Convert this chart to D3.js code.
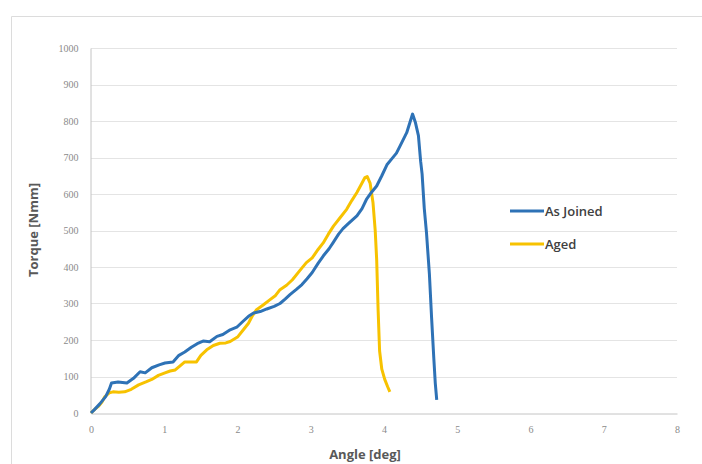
<!DOCTYPE html>
<html>
<head>
<meta charset="utf-8">
<script src="https://cdn.jsdelivr.net/npm/d3@7"></script>
<style>
  body { margin: 0; background: #fff; }
  svg { display: block; }
</style>
</head>
<body>
<svg width="702" height="464"></svg>
<script>
// torque vs angle
var joinedAngle = [0, 0.05, 0.12, 0.2, 0.25, 0.28, 0.37, 0.49, 0.58, 0.67, 0.74, 0.83, 0.93, 1.01, 1.12, 1.2, 1.28, 1.37, 1.45, 1.53, 1.62, 1.72, 1.8, 1.9, 1.99, 2.08, 2.15, 2.22, 2.31, 2.4, 2.5, 2.58, 2.65, 2.72, 2.8, 2.88, 2.95, 3.02, 3.1, 3.17, 3.25, 3.31, 3.38, 3.44, 3.52, 3.63, 3.7, 3.76, 3.83, 3.9, 3.97, 4.04, 4.1, 4.17, 4.22, 4.31, 4.36, 4.39, 4.43, 4.47, 4.5, 4.52, 4.55, 4.58, 4.62, 4.65, 4.68, 4.7, 4.72];
var joinedTorque = [0, 10, 25, 45, 65, 82, 85, 82, 95, 113, 110, 124, 132, 137, 140, 158, 167, 180, 190, 197, 195, 210, 215, 228, 235, 252, 265, 274, 278, 285, 292, 300, 312, 325, 338, 352, 368, 385, 410, 430, 450, 468, 490, 505, 520, 540, 560, 585, 605, 622, 650, 680, 695, 712, 732, 768, 800, 819, 795, 760, 690, 655, 560, 494, 380, 260, 150, 82, 36];

var agedAngle = [0, 0.05, 0.1, 0.15, 0.19, 0.25, 0.3, 0.38, 0.46, 0.55, 0.65, 0.75, 0.83, 0.92, 1.01, 1.08, 1.15, 1.22, 1.28, 1.35, 1.44, 1.5, 1.58, 1.67, 1.76, 1.84, 1.9, 2.0, 2.08, 2.15, 2.2, 2.26, 2.35, 2.44, 2.52, 2.58, 2.67, 2.75, 2.85, 2.94, 3.02, 3.1, 3.17, 3.24, 3.31, 3.4, 3.49, 3.56, 3.63, 3.7, 3.74, 3.77, 3.81, 3.85, 3.88, 3.9, 3.92, 3.94, 3.97, 4.01, 4.05, 4.08];
var agedTorque = [0, 10, 18, 30, 45, 55, 58, 57, 58, 65, 77, 85, 92, 103, 110, 115, 118, 130, 140, 140, 140, 158, 173, 185, 191, 192, 196, 208, 228, 246, 265, 283, 296, 310, 322, 338, 350, 365, 390, 412, 425, 448, 466, 490, 512, 535, 558, 582, 604, 630, 645, 648, 630, 576, 500, 420, 280, 170, 120, 92, 72, 58];

var xTicks = [0, 1, 2, 3, 4, 5, 6, 7, 8];
var yTicks = [0, 100, 200, 300, 400, 500, 600, 700, 800, 900, 1000];

var seriesNames = ["As Joined", "Aged"];
var seriesColors = ["#2e72b6", "#f7c200"];

var svg = d3.select("svg");

// outer chart frame (only top/left edge shows)
svg.append("path")
  .attr("d", "M11.5,464 V16.5 H702")
  .attr("fill", "none")
  .attr("stroke", "#dcdcdc")
  .attr("stroke-width", 1);

var x = d3.scaleLinear().domain([0, 8]).range([91, 677]);
var y = d3.scaleLinear().domain([0, 1000]).range([413, 48]);

var g = svg.append("g");

// gridlines
g.selectAll(".grid")
  .data(yTicks.slice(1))
  .enter()
  .append("line")
  .attr("x1", x(0))
  .attr("x2", x(8))
  .attr("y1", function (d) { return Math.round(y(d)) + 0.5; })
  .attr("y2", function (d) { return Math.round(y(d)) + 0.5; })
  .attr("stroke", "#e4e4e4")
  .attr("stroke-width", 1);

// axes
var yAxis = d3.axisLeft(y).tickValues(yTicks).tickFormat(d3.format("d")).tickSize(0).tickPadding(12);
var xAxis = d3.axisBottom(x).tickValues(xTicks).tickFormat(d3.format("d")).tickSize(0).tickPadding(12);

var ya = g.append("g").attr("transform", "translate(" + (x(0) - 0.5) + ",0)").call(yAxis);
var xa = g.append("g").attr("transform", "translate(0," + (y(0) + 0.5) + ")").call(xAxis);

[ya, xa].forEach(function (a) {
  a.select(".domain").attr("stroke", "#c4c4c4");
  a.selectAll("text")
    .attr("font-family", "'Liberation Serif', serif")
    .style("font-size", "10px")
    .attr("fill", "#8a8a8a");
});

// series lines
var line = d3.line()
  .x(function (d) { return x(d[0]); })
  .y(function (d) { return y(d[1]); });

var series = [
  d3.zip(joinedAngle, joinedTorque),
  d3.zip(agedAngle, agedTorque)
];

// yellow under blue
g.append("path")
  .datum(series[1])
  .attr("d", line)
  .attr("fill", "none")
  .attr("stroke", seriesColors[1])
  .attr("stroke-width", 3)
  .attr("stroke-linejoin", "round");

g.append("path")
  .datum(series[0])
  .attr("d", line)
  .attr("fill", "none")
  .attr("stroke", seriesColors[0])
  .attr("stroke-width", 3)
  .attr("stroke-linejoin", "round");

// axis titles
svg.append("text")
  .attr("transform", "translate(38,230) rotate(-90)")
  .attr("text-anchor", "middle")
  .attr("font-family", "'Open Sans', sans-serif")
  .attr("font-weight", "bold")
  .style("font-size", "13px")
  .attr("fill", "#595959")
  .text("Torque [Nmm]");

svg.append("text")
  .attr("x", 365)
  .attr("y", 459)
  .attr("text-anchor", "middle")
  .attr("font-family", "'Open Sans', sans-serif")
  .attr("font-weight", "bold")
  .style("font-size", "13px")
  .attr("fill", "#595959")
  .text("Angle [deg]");

// legend
var legend = svg.selectAll(".legend")
  .data(seriesNames)
  .enter()
  .append("g")
  .attr("class", "legend")
  .attr("transform", function (d, i) { return "translate(510," + (211 + i * 33) + ")"; });

legend.append("line")
  .attr("x1", 0)
  .attr("x2", 34)
  .attr("stroke", function (d, i) { return seriesColors[i]; })
  .attr("stroke-width", 3);

legend.append("text")
  .attr("x", 35)
  .attr("dy", "0.35em")
  .attr("font-family", "'Open Sans', sans-serif")
  .attr("font-weight", "600")
  .style("font-size", "13px")
  .attr("fill", "#404040")
  .text(function (d) { return d; });
</script>
</body>
</html>
